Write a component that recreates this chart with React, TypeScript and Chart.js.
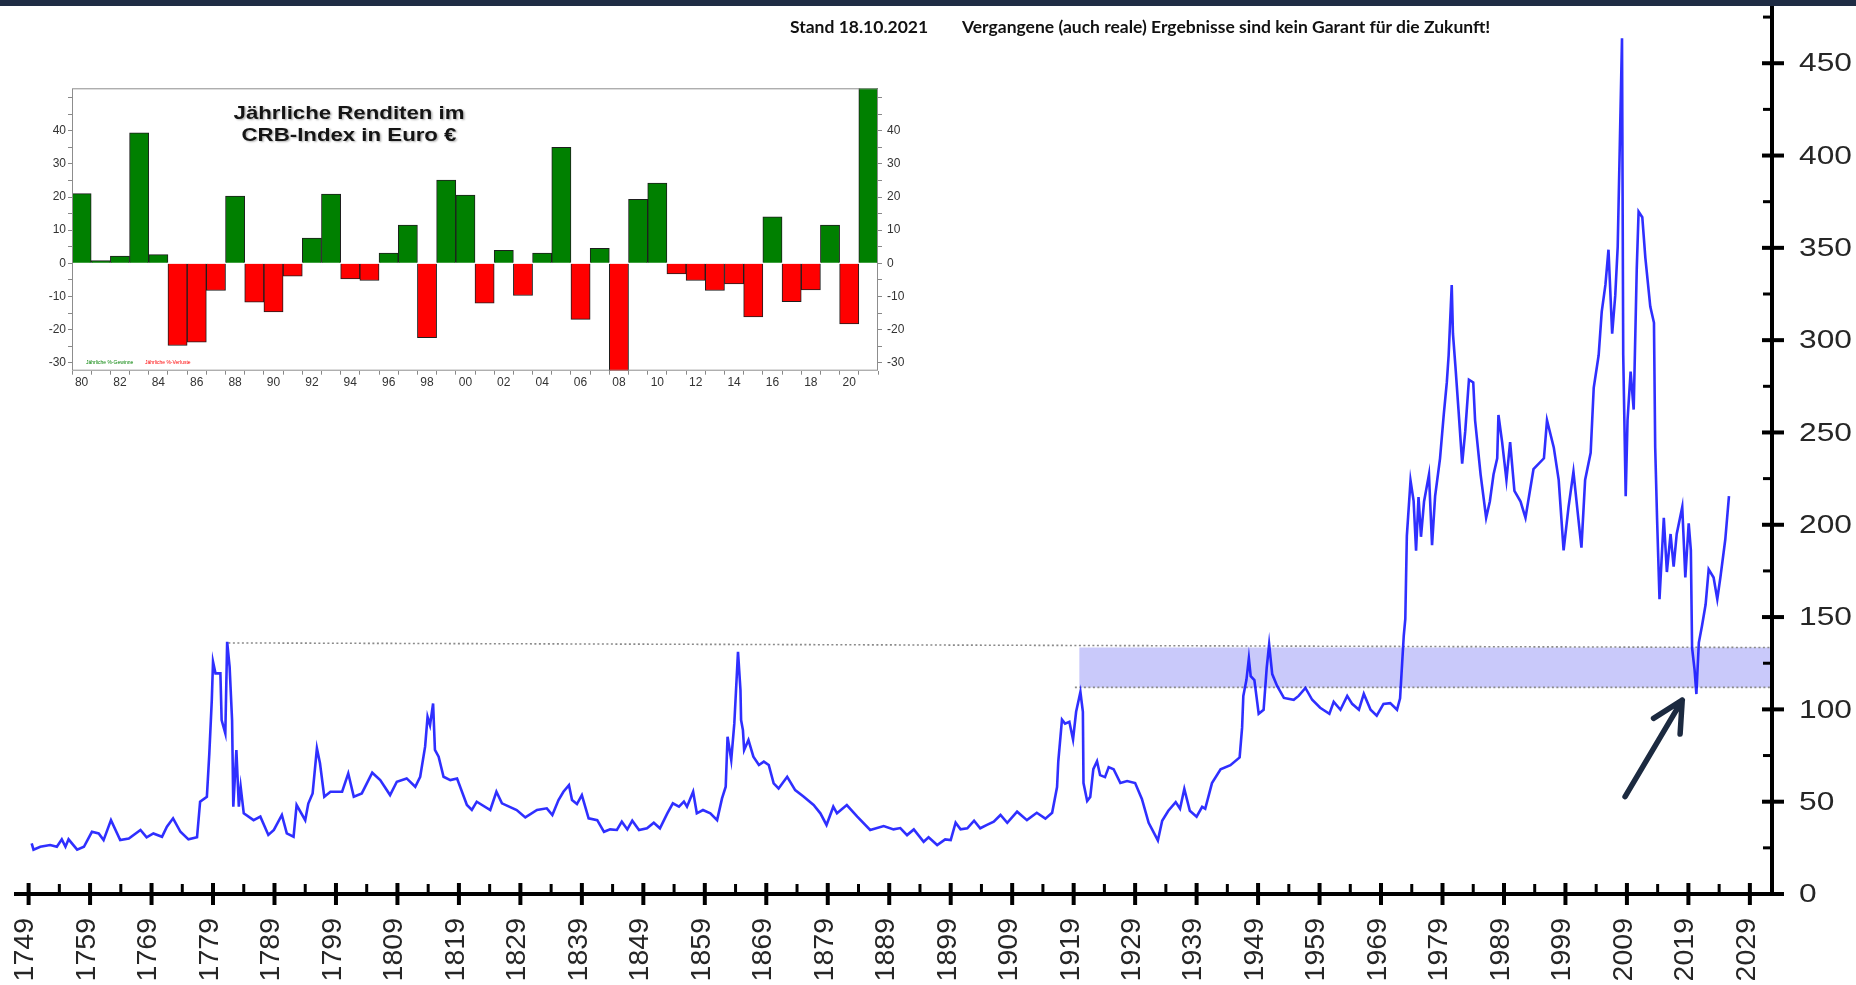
import React, { useEffect, useRef } from 'react';
import { Chart, registerables } from 'chart.js';

Chart.register(...registerables);
Chart.defaults.font.family = "'Liberation Sans', Arial, sans-serif";

// ---------- main series (CRB index, long term) ----------
const LINE_YEARS = [
  1749.5, 1749.8, 1750.9, 1752.5, 1753.6, 1754.4, 1755.0, 1755.5, 1756.9, 1758.0,
  1759.3, 1760.4, 1761.2, 1762.4, 1763.9, 1765.3, 1767.2, 1768.2, 1769.3, 1770.7,
  1771.5, 1772.5, 1773.7, 1775.0, 1776.4, 1776.9, 1778.0, 1778.4, 1778.8, 1779.0,
  1779.4, 1780.2, 1780.4, 1781.0, 1781.3, 1781.7, 1782.1, 1782.3, 1782.8, 1783.2,
  1783.5, 1784.0, 1785.6, 1786.7, 1788.0, 1788.9, 1790.2, 1791.0, 1792.1, 1792.6,
  1794.0, 1794.5, 1795.2, 1795.9, 1796.4, 1797.1, 1798.1, 1800.0, 1801.0, 1801.9,
  1803.2, 1804.9, 1806.2, 1807.8, 1808.9, 1810.5, 1811.9, 1812.7, 1813.5, 1813.9,
  1814.3, 1814.8, 1815.1, 1815.7, 1816.5, 1817.6, 1818.7, 1820.3, 1821.1, 1821.9,
  1824.1, 1825.1, 1826.0, 1828.4, 1829.8, 1831.7, 1833.3, 1834.2, 1835.2, 1836.0,
  1836.9, 1837.4, 1838.2, 1839.0, 1840.1, 1841.5, 1842.6, 1843.6, 1844.7, 1845.5,
  1846.4, 1847.2, 1848.3, 1849.6, 1850.7, 1851.7, 1852.9, 1853.8, 1854.8, 1855.6,
  1856.1, 1857.1, 1857.7, 1858.7, 1859.9, 1861.0, 1861.8, 1862.4, 1862.7, 1863.3,
  1863.8, 1864.4, 1864.8, 1864.9, 1865.2, 1865.4, 1866.1, 1866.9, 1867.8, 1868.6,
  1869.4, 1870.2, 1871.0, 1872.4, 1873.7, 1875.1, 1876.7, 1877.8, 1878.8, 1879.9,
  1880.5, 1882.1, 1883.8, 1885.9, 1888.1, 1889.7, 1890.8, 1891.9, 1893.0, 1894.6,
  1895.4, 1896.8, 1898.1, 1899.0, 1899.8, 1900.6, 1901.7, 1902.8, 1903.8, 1904.9,
  1906.0, 1907.1, 1908.2, 1909.8, 1911.4, 1913.0, 1914.4, 1915.5, 1916.3, 1916.5,
  1917.1, 1917.6, 1918.3, 1918.9, 1919.4, 1920.1, 1920.5, 1920.6, 1921.2, 1921.7,
  1922.2, 1922.8, 1923.3, 1924.1, 1924.7, 1925.5, 1926.6, 1927.7, 1929.0, 1930.1,
  1931.2, 1932.7, 1933.4, 1934.4, 1935.6, 1936.3, 1937.0, 1937.9, 1939.0, 1939.9,
  1940.4, 1941.5, 1942.9, 1944.5, 1946.0, 1946.4, 1946.6, 1947.1, 1947.5, 1947.8,
  1948.4, 1949.1, 1949.9, 1950.4, 1950.8, 1951.3, 1952.1, 1953.2, 1954.8, 1955.6,
  1956.7, 1957.8, 1959.1, 1960.6, 1961.3, 1962.4, 1963.5, 1964.3, 1965.4, 1966.2,
  1967.3, 1968.3, 1969.4, 1970.5, 1971.6, 1972.1, 1972.7, 1972.95, 1973.2, 1973.8,
  1974.3, 1974.7, 1975.1, 1975.5, 1976.0, 1976.8, 1977.3, 1977.8, 1978.6, 1979.2,
  1979.7, 1980.0, 1980.5, 1980.7, 1981.1, 1981.6, 1982.2, 1982.7, 1983.3, 1984.0,
  1984.3, 1985.2, 1986.1, 1986.7, 1987.3, 1987.9, 1988.1, 1988.7, 1989.4, 1990.0,
  1990.7, 1991.7, 1992.5, 1993.8, 1995.5, 1996.0, 1997.1, 1997.9, 1998.7, 1999.5,
  2000.3, 2000.9, 2001.6, 2002.2, 2003.1, 2003.6, 2004.4, 2004.9, 2005.5, 2006.0,
  2006.6, 2007.1, 2007.5, 2007.9, 2008.2, 2008.4, 2008.8, 2009.1, 2009.6, 2010.1,
  2010.6, 2010.9, 2011.5, 2012.0, 2012.8, 2013.4, 2013.6, 2013.9, 2014.3, 2015.0,
  2015.5, 2016.1, 2016.6, 2017.1, 2018.0, 2018.5, 2019.05, 2019.4, 2019.6, 2020.0,
  2020.3, 2020.7, 2021.2, 2021.8, 2022.3, 2023.1, 2023.7, 2024.2, 2025.0, 2025.6,
];
const LINE_VALUES = [
  27.4, 24, 25.6, 26.5, 25.6, 29.6, 25.6, 29.6, 24, 25.6,
  33.7, 32.8, 29.2, 40, 29.2, 30.1, 34.7, 30.7, 32.8, 31,
  36.5, 41, 33.7, 29.6, 30.7, 50, 52.7, 76.2, 105, 125.8,
  119.5, 119.5, 94.2, 87, 136.6, 123, 94.2, 47.3, 78, 47.3,
  58, 43.7, 40, 41.9, 32, 34.7, 42.8, 32.8, 31, 48.2,
  40, 49, 54.5, 78.9, 70.8, 52.7, 55.4, 55.4, 65.3, 52.7,
  54.5, 65.7, 61.7, 53.6, 60.8, 62.6, 58.1, 63.5, 79.8, 96,
  91.5, 103.2, 78, 74.4, 63.5, 61.7, 62.6, 48.2, 45.5, 50,
  45.5, 55.4, 49.1, 45.5, 41.5, 45.5, 46.4, 42.8, 50.9, 55.4,
  59, 50.9, 48.7, 53.6, 41, 40, 33.7, 35, 34.7, 39.2,
  35, 39.7, 34.7, 35.6, 38.6, 35.6, 43.7, 49.1, 47.3, 50,
  47.3, 55.4, 43.7, 45.5, 43.7, 40, 51.8, 58.1, 85.2, 72.6,
  92.4, 131.2, 110.5, 94.2, 88.8, 78, 83.4, 74.4, 69.9, 71.7,
  69.9, 59.9, 57.2, 63.5, 56.3, 52.7, 48.2, 43.7, 37.4, 47.3,
  43.7, 48.2, 41.9, 34.7, 36.8, 35, 35.7, 31.9, 35, 28.3,
  30.7, 26.5, 29.6, 29.2, 38.6, 35, 35.6, 39.7, 35.6, 37.4,
  39.2, 42.8, 38.6, 44.6, 40, 44, 40.8, 44, 57.9, 71.9,
  94.4, 92.3, 93.3, 83.7, 98.7, 109.4, 98.7, 60.1, 50.4, 52.6,
  67.6, 71.9, 64.4, 63.3, 68.7, 67.6, 60.1, 61.2, 60.1, 51.5,
  38.6, 29, 39.7, 45.1, 49.8, 46.2, 56.9, 45.1, 41.9, 47.2,
  46.2, 60.1, 67.6, 69.8, 74, 90.1, 107.3, 115.9, 127.7, 118,
  115.9, 97.6, 99.8, 122.3, 135.2, 119.1, 112.7, 106.2, 105.2, 107.3,
  111.6, 105.2, 100.9, 97.6, 104.1, 99.8, 107.3, 103, 99.8, 108.4,
  99.8, 96.6, 103, 103.4, 99.8, 106, 140, 149, 194, 224,
  213, 186, 215, 193.5, 212.6, 227.2, 189, 215.5, 236, 259.5,
  277.1, 291.8, 329.9, 303.5, 285.9, 262.4, 233.1, 250.7, 278.6, 277.1,
  256.6, 227.2, 203.8, 212.6, 227.2, 236, 259.5, 244.8, 224.3, 244.8,
  218.4, 212.6, 203.8, 230.1, 236, 256.6, 241.9, 224.3, 186.1, 209.6,
  228.7, 209.6, 187.6, 224.3, 239, 274.2, 291.8, 315.3, 329.9, 349,
  303.5, 324.1, 350.5, 415.1, 463.5, 291.8, 215.5, 256.6, 283, 262.4,
  338.8, 369.6, 366.6, 344.6, 318.2, 309.4, 241.9, 203.8, 159.7, 203.8,
  174.4, 195, 177.3, 195, 209.6, 171.5, 200.8, 186.1, 133.3, 121.6,
  108.3, 136.2, 145, 156.8, 175.8, 171.4, 159.7, 171.4, 192, 215.5,
];

// axis ticks
const X_TICK_YEARS = [
  1749, 1759, 1769, 1779, 1789, 1799, 1809, 1819, 1829, 1839, 1849, 1859, 1869, 1879,
  1889, 1899, 1909, 1919, 1929, 1939, 1949, 1959, 1969, 1979, 1989, 1999, 2009, 2019, 2029,
];
const Y_TICKS = [0, 50, 100, 150, 200, 250, 300, 350, 400, 450];
const X_MIN = 1746.3;
const X_MAX = 2032.6;
const Y_MAX = 481;

// annotations (data coordinates)
const BAND_X = [1919.9, 2032.6];
const BAND_LOW = 111.9;
const BAND_HIGH = 133.5;
const TOP_DOTTED_X = [1781.5, 2032.6];
const TOP_DOTTED_Y = [136, 133.5];
const LOW_DOTTED_X = [1919.2, 2032.6];
const LOW_DOTTED_Y = [111.9, 111.9];
const ARROW_X = [2008.7, 2018.0];
const ARROW_Y = [52.7, 105];

// ---------- inset: yearly returns ----------
const RET_YEARS = [
  1980, 1981, 1982, 1983, 1984, 1985, 1986, 1987, 1988, 1989, 1990, 1991, 1992, 1993,
  1994, 1995, 1996, 1997, 1998, 1999, 2000, 2001, 2002, 2003, 2004, 2005, 2006, 2007,
  2008, 2009, 2010, 2011, 2012, 2013, 2014, 2015, 2016, 2017, 2018, 2019, 2020, 2021,
];
const RET_VALUES = [
  21, 0.8, 2.2, 39.4, 2.6, -24.8, -23.8, -8.2, 20.3, -11.7, -14.7, -3.9, 7.6, 20.9,
  -4.7, -5.2, 3.1, 11.5, -22.4, 25.1, 20.6, -12, 3.9, -9.7, 3.1, 35, -16.9, 4.5,
  -33, 19.3, 24.2, -3.2, -5.2, -8.2, -6.2, -16.2, 14, -11.6, -8, 11.5, -18.3, 58,
];
const RET_Y_TICKS = [-30, -25, -20, -15, -10, -5, 0, 5, 10, 15, 20, 25, 30, 35, 40, 45, 50];
const RET_MIN = -32.4;
const RET_MAX = 52.8;

const AXIS_FONT = "'Liberation Sans', Arial, sans-serif";

const axisPlugin = {
  id: 'axisPlugin',
  afterDraw(chart: any) {
    const ctx = chart.ctx;
    const xs = chart.scales.x;
    const ys = chart.scales.y;
    const ca = chart.chartArea;
    ctx.save();
    ctx.strokeStyle = '#000';
    ctx.lineCap = 'butt';
    // axis lines
    ctx.lineWidth = 4;
    ctx.beginPath();
    ctx.moveTo(ca.left + 2, ca.bottom);
    ctx.lineTo(ca.right + 2, ca.bottom);
    ctx.moveTo(ca.right, 0);
    ctx.lineTo(ca.right, ca.bottom + 2);
    ctx.stroke();
    // x ticks
    X_TICK_YEARS.forEach((yr) => {
      const px = xs.getPixelForValue(yr);
      ctx.lineWidth = 4;
      ctx.beginPath();
      ctx.moveTo(px, ca.bottom - 11);
      ctx.lineTo(px, ca.bottom + 11);
      ctx.stroke();
      const mn = yr + 5;
      if (mn < X_MAX - 3) {
        const pm = xs.getPixelForValue(mn);
        ctx.lineWidth = 3;
        ctx.beginPath();
        ctx.moveTo(pm, ca.bottom - 10);
        ctx.lineTo(pm, ca.bottom);
        ctx.stroke();
      }
    });
    // y ticks + labels (labels slightly wide, as in the original)
    ctx.fillStyle = '#262626';
    ctx.font = `26px ${AXIS_FONT}`;
    ctx.textAlign = 'left';
    ctx.textBaseline = 'middle';
    Y_TICKS.forEach((v) => {
      const py = ys.getPixelForValue(v);
      ctx.lineWidth = 4;
      ctx.beginPath();
      ctx.moveTo(ca.right - 10, py);
      ctx.lineTo(ca.right + 12, py);
      ctx.stroke();
      const mv = v + 25;
      if (mv < Y_MAX) {
        const pm = ys.getPixelForValue(mv);
        ctx.lineWidth = 3;
        ctx.beginPath();
        ctx.moveTo(ca.right - 9, pm);
        ctx.lineTo(ca.right, pm);
        ctx.stroke();
      }
      ctx.save();
      ctx.translate(ca.right + 27, py + 1);
      ctx.scale(1.22, 1);
      ctx.fillText(String(v), 0, 0);
      ctx.restore();
    });
    // arrow
    const x0 = xs.getPixelForValue(ARROW_X[0]);
    const y0 = ys.getPixelForValue(ARROW_Y[0]);
    const x1 = xs.getPixelForValue(ARROW_X[1]);
    const y1 = ys.getPixelForValue(ARROW_Y[1]);
    const ang = Math.atan2(y0 - y1, x0 - x1);
    const hl = 34;
    const spread = (27 * Math.PI) / 180;
    ctx.strokeStyle = '#1c2a40';
    ctx.lineWidth = 5.5;
    ctx.lineCap = 'round';
    ctx.lineJoin = 'round';
    ctx.beginPath();
    ctx.moveTo(x0, y0);
    ctx.lineTo(x1, y1);
    ctx.moveTo(x1 + hl * Math.cos(ang + spread), y1 + hl * Math.sin(ang + spread));
    ctx.lineTo(x1, y1);
    ctx.lineTo(x1 + hl * Math.cos(ang - spread), y1 + hl * Math.sin(ang - spread));
    ctx.stroke();
    ctx.restore();
  },
};

const insetPlugin = {
  id: 'insetPlugin',
  afterDraw(chart: any) {
    const ctx = chart.ctx;
    const ca = chart.chartArea;
    ctx.save();
    ctx.strokeStyle = '#8d8d8d';
    ctx.lineWidth = 1;
    ctx.strokeRect(ca.left + 0.5, ca.top + 0.5, ca.right - ca.left - 1, ca.bottom - ca.top - 1);
    // title
    const cx = ca.left + (ca.right - ca.left) * 0.3437;
    ctx.fillStyle = '#151515';
    ctx.font = `bold 19px ${AXIS_FONT}`;
    ctx.textAlign = 'center';
    ctx.textBaseline = 'middle';
    ctx.shadowColor = 'rgba(0,0,0,0.3)';
    ctx.shadowOffsetX = 1.5;
    ctx.shadowOffsetY = 1.5;
    ctx.shadowBlur = 2;
    [['Jährliche Renditen im', 25], ['CRB-Index in Euro €', 47]].forEach(([t, dy]: any) => {
      ctx.save();
      ctx.translate(cx, ca.top + dy);
      ctx.scale(1.17, 1);
      ctx.fillText(t, 0, 0);
      ctx.restore();
    });
    ctx.shadowColor = 'transparent';
    // tiny legend
    ctx.font = `5px ${AXIS_FONT}`;
    ctx.textAlign = 'left';
    ctx.fillStyle = '#008000';
    ctx.fillText('Jährliche %-Gewinne', ca.left + 14, ca.bottom - 8);
    ctx.fillStyle = '#ff0000';
    ctx.fillText('Jährliche %-Verluste', ca.left + 73, ca.bottom - 8);
    ctx.restore();
  },
};

export default function App() {
  const mainRef = useRef<HTMLCanvasElement>(null);
  const insetRef = useRef<HTMLCanvasElement>(null);

  useEffect(() => {
    const lineData = LINE_YEARS.map((x, i) => ({ x, y: LINE_VALUES[i] }));
    const main = new Chart(mainRef.current as HTMLCanvasElement, {
      type: 'line',
      data: {
        datasets: [
          {
            label: 'CRB',
            data: lineData,
            borderColor: 'rgba(18,18,255,0.88)',
            borderWidth: 2.6,
            pointRadius: 0,
            tension: 0,
            fill: false,
            order: 0,
          },
          {
            label: 'top',
            data: TOP_DOTTED_X.map((x, i) => ({ x, y: TOP_DOTTED_Y[i] })),
            borderColor: '#8a8a8a',
            borderWidth: 1.6,
            borderDash: [2, 2.5],
            pointRadius: 0,
            fill: false,
            order: 1,
          },
          {
            label: 'low',
            data: LOW_DOTTED_X.map((x, i) => ({ x, y: LOW_DOTTED_Y[i] })),
            borderColor: '#8a8a8a',
            borderWidth: 1.6,
            borderDash: [2, 2.5],
            pointRadius: 0,
            fill: false,
            order: 1,
          },
          {
            label: 'band',
            data: BAND_X.map((x) => ({ x, y: BAND_HIGH })),
            borderWidth: 0,
            borderColor: 'rgba(0,0,0,0)',
            backgroundColor: 'rgb(201,201,250)',
            pointRadius: 0,
            fill: { value: BAND_LOW },
            order: 2,
          },
        ],
      },
      options: {
        responsive: false,
        animation: false,
        devicePixelRatio: 1,
        layout: { padding: { left: 12, top: 6, right: 0, bottom: 0 } },
        plugins: { legend: { display: false }, tooltip: { enabled: false } },
        scales: {
          x: {
            type: 'linear',
            position: 'bottom',
            min: X_MIN,
            max: X_MAX,
            afterBuildTicks: (s: any) => {
              s.ticks = X_TICK_YEARS.map((v) => ({ value: v }));
            },
            afterFit: (s: any) => {
              s.height = 91;
              s.paddingLeft = 0;
              s.paddingRight = 0;
            },
            grid: { display: false, drawTicks: false, tickLength: 0 },
            border: { display: false },
            ticks: {
              autoSkip: false,
              maxRotation: 90,
              minRotation: 90,
              padding: 24,
              labelOffset: -3,
              color: '#262626',
              font: { family: AXIS_FONT, size: 28.5 },
              callback: (v: any) => String(v),
            },
          },
          y: {
            type: 'linear',
            position: 'right',
            min: 0,
            max: Y_MAX,
            afterBuildTicks: (s: any) => {
              s.ticks = Y_TICKS.map((v) => ({ value: v }));
            },
            afterFit: (s: any) => {
              s.width = 84;
              s.paddingTop = 0;
              s.paddingBottom = 0;
            },
            grid: { display: false, drawTicks: false, tickLength: 0 },
            border: { display: false },
            ticks: { display: false },
          },
        },
      } as any,
      plugins: [axisPlugin],
    });

    const inset = new Chart(insetRef.current as HTMLCanvasElement, {
      type: 'bar',
      data: {
        labels: RET_YEARS.map(String),
        datasets: [
          {
            data: RET_VALUES,
            backgroundColor: RET_VALUES.map((v) => (v >= 0 ? '#008000' : '#ff0000')),
            borderColor: '#1e1e1e',
            borderWidth: 1,
            barPercentage: 1,
            categoryPercentage: 1,
          },
        ],
      },
      options: {
        responsive: false,
        animation: false,
        devicePixelRatio: 1,
        layout: { padding: { left: 0, top: 8.3, right: 0, bottom: 0 } },
        plugins: { legend: { display: false }, tooltip: { enabled: false } },
        scales: {
          x: {
            grid: { display: true, drawOnChartArea: false, drawTicks: true, tickLength: 4, color: '#888', offset: true },
            border: { display: false },
            afterFit: (s: any) => {
              s.height = 29.3;
              s.paddingLeft = 0;
              s.paddingRight = 0;
            },
            ticks: {
              autoSkip: false,
              maxRotation: 0,
              minRotation: 0,
              padding: 1,
              color: '#333',
              font: { family: AXIS_FONT, size: 12 },
              callback: (_v: any, i: number) => (RET_YEARS[i] % 2 === 0 ? String(RET_YEARS[i]).slice(2) : ''),
            },
          },
          y: {
            position: 'left',
            min: RET_MIN,
            max: RET_MAX,
            afterBuildTicks: (s: any) => {
              s.ticks = RET_Y_TICKS.map((v) => ({ value: v }));
            },
            afterFit: (s: any) => {
              s.width = 32;
              s.paddingTop = 0;
              s.paddingBottom = 0;
            },
            grid: { display: true, drawOnChartArea: false, drawTicks: true, tickLength: 4, color: '#888' },
            border: { display: false },
            ticks: {
              padding: 2,
              color: '#333',
              font: { family: AXIS_FONT, size: 12 },
              callback: (v: any) => (v % 10 === 0 && v <= 40 ? String(v) : ''),
            },
          },
          y2: {
            position: 'right',
            min: RET_MIN,
            max: RET_MAX,
            afterBuildTicks: (s: any) => {
              s.ticks = RET_Y_TICKS.map((v) => ({ value: v }));
            },
            afterFit: (s: any) => {
              s.width = 42;
              s.paddingTop = 0;
              s.paddingBottom = 0;
            },
            grid: { display: true, drawOnChartArea: false, drawTicks: true, tickLength: 4, color: '#888' },
            border: { display: false },
            ticks: {
              padding: 5,
              color: '#333',
              font: { family: AXIS_FONT, size: 12 },
              callback: (v: any) => (v % 10 === 0 && v <= 40 ? String(v) : ''),
            },
          },
        },
      } as any,
      plugins: [insetPlugin],
    });

    return () => {
      main.destroy();
      inset.destroy();
    };
  }, []);

  const headerStyle: React.CSSProperties = {
    position: 'absolute',
    top: 16,
    fontFamily: "Lato, 'Open Sans', sans-serif",
    fontWeight: 700,
    fontSize: 17.5,
    lineHeight: '22px',
    color: '#111',
    whiteSpace: 'nowrap',
    zIndex: 3,
  };

  return (
    <div>
      <canvas
        ref={mainRef}
        width={1856}
        height={985}
        style={{ position: 'absolute', left: 0, top: 0, width: 1856, height: 985, zIndex: 1 }}
      />
      <canvas
        ref={insetRef}
        width={880}
        height={320}
        style={{ position: 'absolute', left: 40, top: 80, width: 880, height: 320, zIndex: 2 }}
      />
      <div
        style={{ position: 'absolute', left: 0, top: 0, width: 1856, height: 6, background: '#1f2c44', zIndex: 4 }}
      />
      <div style={{ ...headerStyle, left: 790 }}>Stand 18.10.2021</div>
      <div style={{ ...headerStyle, left: 962 }}>
        Vergangene (auch reale) Ergebnisse sind kein Garant für die Zukunft!
      </div>
    </div>
  );
}
